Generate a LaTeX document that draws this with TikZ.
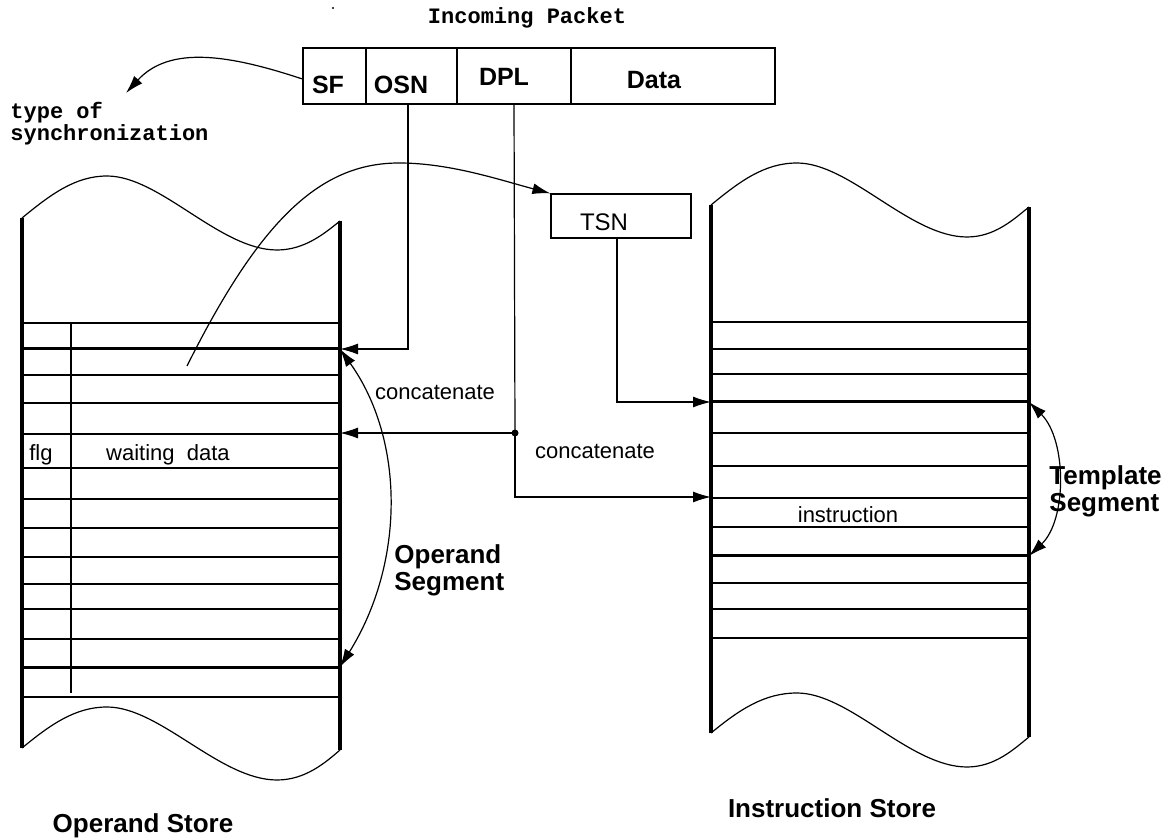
\documentclass[tikz,border=0pt]{standalone}
\usepackage{fontspec}
\setmainfont{Liberation Sans}
\newfontfamily\typewriter{Liberation Mono}
\usetikzlibrary{arrows.meta}

\begin{document}
\begin{tikzpicture}[x=0.5pt,y=-0.5pt,
  wall/.style={line width=1.6pt},
  row/.style={line width=0.6pt},
  bigrow/.style={line width=1.5pt},
  wave/.style={line width=0.6pt},
  field/.style={draw, line width=0.6pt, inner sep=0pt, minimum height=28pt},
  conn/.style={line width=0.6pt, -{Latex[length=9pt,width=5.5pt]}},
  span/.style={line width=0.6pt, {Latex[length=9pt,width=5.5pt]}-{Latex[length=9pt,width=5.5pt]}},
  txt/.style={inner sep=0pt, font=\fontsize{11}{11}\selectfont},
  fieldtxt/.style={inner sep=0pt, font=\fontsize{12.5}{13}\selectfont\bfseries},
  bold/.style={inner sep=0pt, font=\fontsize{13}{13.5}\selectfont\bfseries, align=left},
  mono/.style={inner sep=0pt, font=\fontsize{11}{11}\selectfont\typewriter\bfseries, align=left}]
\useasboundingbox (0,0) rectangle (1168,839);
\fill (333,8) circle (0.6pt);

% incoming packet
\node [mono] (pkt) at (527,18) {Incoming Packet};
\node [field, minimum width=31.5pt] (sfbox) at (334.5,76) {};
\node [field, minimum width=45.5pt] (osnbox) at (411.5,76) {};
\node [field, minimum width=57pt] (dplbox) at (514,76) {};
\node [field, minimum width=102pt] (databox) at (673,76) {};
\node [fieldtxt] (sf) at (328,85) {SF};
\node [fieldtxt] (osn) at (401,85) {OSN};
\node [fieldtxt] (dpl) at (504,77) {DPL};
\node [fieldtxt] (data) at (654,80) {Data};
\node [mono, anchor=west] (sync) at (10,124) {type of\\synchronization};
\coordinate (synctip) at (126,93);

% TSN register
\node [draw, line width=0.6pt, inner sep=0pt, minimum width=70pt, minimum height=22pt] (tsnbox) at (621,216) {};
\node [txt, font=\fontsize{12}{12}\selectfont] (tsn) at (604,222) {TSN};

% operand store
\draw [wave] (22,218) .. controls (50,195) and (75,176) .. (107,176) .. controls (160,176) and (220,250) .. (277,250) .. controls (305,250) and (325,233) .. (340,221);
\draw [wave] (22,748) .. controls (50,725) and (75,707) .. (107,707) .. controls (160,707) and (220,780) .. (277,780) .. controls (305,780) and (325,763) .. (340,750);
\draw [wall] (22,218) -- (22,748);
\draw [wall] (340,221) -- (340,750);
\draw [row] (22,323) -- (340,323);
\draw [bigrow] (22,349) -- (340,349);
\draw [row] (22,375) -- (340,375);
\draw [row] (22,403) -- (340,403);
\draw [row] (22,434) -- (340,434);
\draw [row] (22,468) -- (340,468);
\draw [row] (22,499) -- (340,499);
\draw [row] (22,528) -- (340,528);
\draw [row] (22,557) -- (340,557);
\draw [row] (22,584) -- (340,584);
\draw [row] (22,609) -- (340,609);
\draw [row] (22,639) -- (340,639);
\draw [bigrow] (22,667) -- (340,667);
\draw [row] (22,697) -- (340,697);
\draw [row] (71,323) -- (71,693);
\node [txt] (flg) at (41,455) {flg};
\node [txt] (waiting) at (168,455) {waiting\ \ data};
\node [bold] (opstore) at (143,826) {Operand Store};
\node [bold, anchor=west] (opseg) at (394,570) {Operand\\Segment};
\coordinate (opsegtop) at (340,349);
\coordinate (opsegbot) at (340,667);
\coordinate (opflag) at (340,433);
\coordinate (opentry) at (187,366);

% instruction store
\draw [wave] (711,205) .. controls (739,182) and (764,163) .. (797,163) .. controls (850,163) and (910,237) .. (967,237) .. controls (995,237) and (1014,219) .. (1029,207);
\draw [wave] (711,733) .. controls (739,710) and (764,693) .. (797,693) .. controls (850,693) and (910,767) .. (967,767) .. controls (995,767) and (1014,749) .. (1029,737);
\draw [wall] (711,205) -- (711,733);
\draw [wall] (1029,207) -- (1029,737);
\draw [row] (711,322) -- (1029,322);
\draw [row] (711,349) -- (1029,349);
\draw [row] (711,374) -- (1029,374);
\draw [bigrow] (711,402) -- (1029,402);
\draw [row] (711,433) -- (1029,433);
\draw [row] (711,466) -- (1029,466);
\draw [row] (711,498) -- (1029,498);
\draw [row] (711,527) -- (1029,527);
\draw [bigrow] (711,556) -- (1029,556);
\draw [row] (711,583) -- (1029,583);
\draw [row] (711,609) -- (1029,609);
\draw [row] (711,638) -- (1029,638);
\node [txt] (instr) at (848,515) {instruction};
\node [bold] (instore) at (832,808) {Instruction Store};
\node [bold, anchor=west] (tmplseg) at (1049,491) {Template\\Segment};
\coordinate (tmpltop) at (1029,402);
\coordinate (tmplbot) at (1029,556);
\coordinate (tsnhit) at (711,402);
\coordinate (dplhit) at (711,497);

% connections
\node [circle, fill, inner sep=0pt, minimum size=3.5pt] (join) at (515,433) {};
\draw [conn] ([yshift=-1.5pt]sfbox.west) .. controls (230,55) and (170,45) .. (synctip);
\draw [conn] ([xshift=-1.75pt]osnbox.south) |- (opsegtop);
\draw [line width=0.6pt] (dplbox.south) -- (join.center);
\draw [conn] (join.center) |- (dplhit);
\draw [conn] (join.center) -- (opflag);
\draw [conn] ([xshift=-2pt]tsnbox.south) |- (tsnhit);
\draw [conn] (opentry) .. controls (260,220) and (320,163) .. (399,163) .. controls (450,163) and (500,180) .. (tsnbox.north west);
\draw [span] (opsegtop) .. controls (405,440) and (405,563) .. (opsegbot);
\draw [span] (tmpltop) .. controls (1067,440) and (1067,520) .. (tmplbot);
\node [txt] (cat1) at (435,392) {concatenate};
\node [txt] (cat2) at (595,451) {concatenate};
\end{tikzpicture}
\end{document}
